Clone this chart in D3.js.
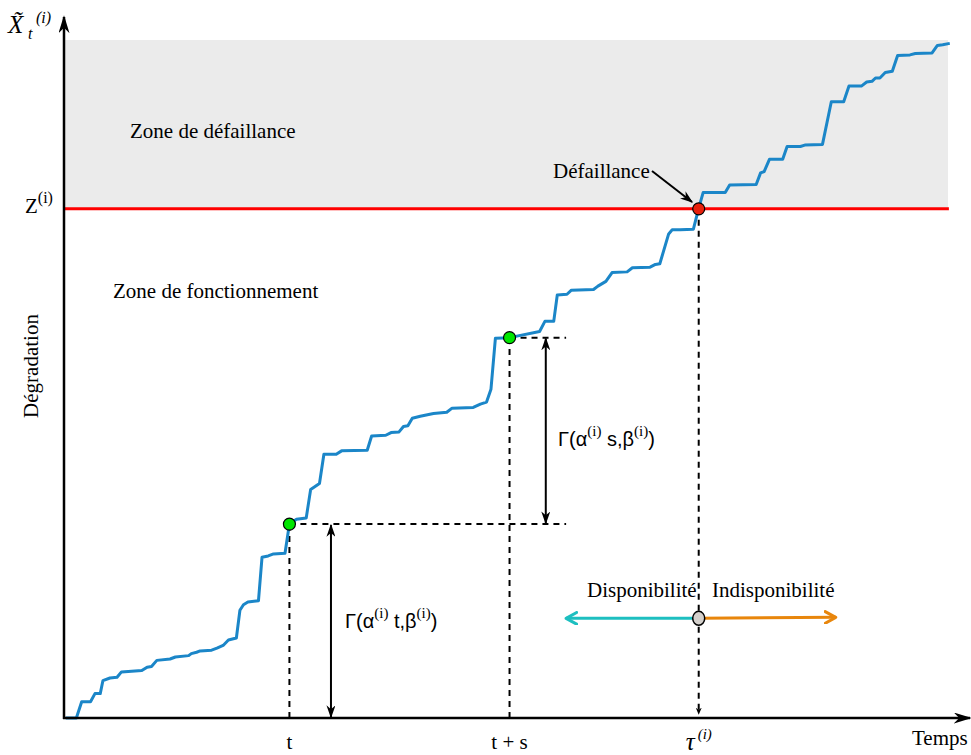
<!DOCTYPE html>
<html>
<head>
<meta charset="utf-8">
<script src="https://cdn.jsdelivr.net/npm/d3@7"></script>
<style>
    body { margin: 0; background: #fff; }
    svg { display: block; }
    text { font-family: "Liberation Serif", "Times New Roman", serif; fill: #000; }
    .sans { font-family: "Liberation Sans", Arial, sans-serif; }
</style>
</head>
<body>
<svg id="vis" width="971" height="755"></svg>
<script>

// degradation path (time 0-100, degradation 0-100)
const times = [0.2, 1.4, 2.0, 3.0, 3.5, 4.1, 4.4, 5.2, 6.0, 6.5, 8.8, 9.4, 9.9, 10.5, 12.0, 12.6,
    14.1, 14.4, 15.0, 15.4, 16.7, 17.3, 18.0, 18.6, 19.5, 19.9, 20.3, 20.8, 22.0, 22.4, 23.1, 23.7,
    25.0, 25.5, 26.3, 27.4, 27.9, 28.9, 29.4, 30.8, 31.4, 34.3, 34.8, 36.4, 37.0, 37.9, 38.4, 38.9,
    39.4, 40.3, 41.8, 43.3, 43.9, 46.3, 47.1, 47.8, 48.3, 48.8, 50.4, 53.8, 54.4, 55.4, 55.8, 56.9,
    57.4, 59.9, 60.4, 61.3, 62.0, 63.7, 64.3, 66.3, 66.9, 67.4, 68.4, 68.8, 69.7, 71.2, 71.8, 72.3,
    74.8, 75.3, 78.3, 78.8, 79.2, 79.8, 81.3, 81.8, 83.3, 83.8, 85.8, 86.8, 88.2, 88.8, 90.2, 90.8,
    91.4, 91.8, 92.3, 92.9, 93.7, 94.3, 95.7, 96.3, 98.2, 98.8, 99.4, 100.2];
const degradation = [0, 0, 2.4, 2.4, 3.6, 3.6, 5.5, 5.9, 6.0, 6.8, 7.0, 7.5, 7.6, 8.5, 8.7, 9.0,
    9.2, 9.5, 9.7, 9.9, 10.0, 10.3, 10.7, 11.5, 11.8, 15.9, 16.7, 17.1, 17.3, 23.7, 23.9, 24.2,
    24.3, 28.6, 29.3, 29.5, 33.7, 34.6, 38.9, 38.9, 39.4, 39.5, 41.6, 41.7, 42.1, 42.2, 43.0, 43.1,
    44.2, 44.5, 44.9, 45.1, 45.7, 45.8, 46.3, 46.6, 48.5, 56.0, 56.1, 57.0, 58.5, 58.5, 62.4, 62.5,
    63.1, 63.2, 63.7, 64.4, 65.7, 65.8, 66.4, 66.5, 66.9, 67.0, 71.4, 72.0, 72.0, 72.1, 75.2, 77.5,
    77.5, 78.6, 78.7, 80.4, 80.6, 82.4, 82.4, 84.3, 84.3, 84.5, 84.6, 90.9, 90.9, 93.2, 93.2, 93.8,
    93.9, 94.4, 94.4, 95.2, 95.4, 97.7, 97.8, 98.0, 98.1, 99.2, 99.3, 99.5];

const threshold = 75.1;            // Z(i)
const markTimes = [25.5, 50.4];    // t, t + s
const markLevels = [28.6, 56.1];
const failureTime = 71.8;          // tau(i)
const failureLevel = 75.1;
const tickLabels = ["t", "t + s"];
const zoneLabels = ["Zone de défaillance", "Zone de fonctionnement"];
const stateLabels = ["Disponibilité", "Indisponibilité"];
const stateColors = ["#1dbfc0", "#e8860c"];

const svg = d3.select('#vis');

var x = d3.scaleLinear().domain([0, 100]).range([64, 948]);
var y = d3.scaleLinear().domain([0, 100]).range([718, 40]);

var defs = svg.append("defs");

// filled stealth arrow
function stealth(id, len, wid) {
    defs.append("marker")
        .attr("id", id)
        .attr("viewBox", "0 -5 10 10")
        .attr("refX", 9)
        .attr("refY", 0)
        .attr("markerWidth", len)
        .attr("markerHeight", wid)
        .attr("preserveAspectRatio", "none")
        .attr("markerUnits", "userSpaceOnUse")
        .attr("orient", "auto-start-reverse")
        .append("path")
        .attr("d", "M0,-5L10,0L0,5L3,0Z")
        .attr("fill", "#000");
}
stealth("axisArrow", 18, 11);
stealth("dimArrow", 13, 9);
stealth("smallArrow", 7, 6);

// open chevron arrow
function chevron(id, color) {
    defs.append("marker")
        .attr("id", id)
        .attr("viewBox", "0 -6 12 12")
        .attr("refX", 10)
        .attr("refY", 0)
        .attr("markerWidth", 14)
        .attr("markerHeight", 14)
        .attr("markerUnits", "userSpaceOnUse")
        .attr("orient", "auto")
        .append("path")
        .attr("d", "M1,-5L10,0L1,5")
        .attr("fill", "none")
        .attr("stroke", color)
        .attr("stroke-width", 2.6)
        .attr("stroke-linecap", "round")
        .attr("stroke-linejoin", "round");
}
chevron("leftArrow", stateColors[0]);
chevron("rightArrow", stateColors[1]);

// failure zone
svg.append("rect")
    .attr("x", x(0))
    .attr("y", y(100))
    .attr("width", x(100) - x(0))
    .attr("height", y(threshold) - y(100))
    .attr("fill", "#ebebeb");

// dashed guides
var guides = [
    [markTimes[0], 0, markTimes[0], markLevels[0]],
    [markTimes[0], markLevels[0], 56.8, markLevels[0]],
    [markTimes[1], 0, markTimes[1], markLevels[1]],
    [markTimes[1], markLevels[1], 56.8, markLevels[1]]
];
svg.selectAll(".guide")
    .data(guides)
    .enter().append("line")
    .attr("class", "guide")
    .attr("x1", function (d) { return x(d[0]); })
    .attr("y1", function (d) { return y(d[1]); })
    .attr("x2", function (d) { return x(d[2]); })
    .attr("y2", function (d) { return y(d[3]); })
    .attr("stroke", "#000")
    .attr("stroke-width", 2)
    .attr("stroke-dasharray", "6,5");

svg.append("line")
    .attr("x1", x(failureTime))
    .attr("y1", y(failureLevel))
    .attr("x2", x(failureTime))
    .attr("y2", y(0) - 4)
    .attr("stroke", "#000")
    .attr("stroke-width", 2)
    .attr("stroke-dasharray", "6,5")
    .attr("marker-end", "url(#smallArrow)");

// threshold
svg.append("line")
    .attr("x1", x(0))
    .attr("x2", x(100.1))
    .attr("y1", y(threshold))
    .attr("y2", y(threshold))
    .attr("stroke", "#ff0000")
    .attr("stroke-width", 3);

// degradation path
var line = d3.line()
    .x(function (d) { return x(d[0]); })
    .y(function (d) { return y(d[1]); });

svg.append("path")
    .datum(d3.zip(times, degradation))
    .attr("d", line)
    .attr("fill", "none")
    .attr("stroke", "#1b86c8")
    .attr("stroke-width", 3)
    .attr("stroke-linejoin", "round");

// axes
svg.append("line")
    .attr("x1", x(0)).attr("y1", y(0) + 1)
    .attr("x2", x(0)).attr("y2", 17)
    .attr("stroke", "#000").attr("stroke-width", 2.5)
    .attr("marker-end", "url(#axisArrow)");
svg.append("line")
    .attr("x1", x(0) - 1).attr("y1", y(0))
    .attr("x2", 970).attr("y2", y(0))
    .attr("stroke", "#000").attr("stroke-width", 2.5)
    .attr("marker-end", "url(#axisArrow)");

// gamma increments
var dims = [[30.2, 0, markLevels[0]], [54.5, markLevels[0], markLevels[1]]];
svg.selectAll(".dim")
    .data(dims)
    .enter().append("line")
    .attr("class", "dim")
    .attr("x1", function (d) { return x(d[0]); })
    .attr("x2", function (d) { return x(d[0]); })
    .attr("y1", function (d) { return y(d[1]) - 1; })
    .attr("y2", function (d) { return y(d[2]) + 1; })
    .attr("stroke", "#000")
    .attr("stroke-width", 2)
    .attr("marker-start", "url(#dimArrow)")
    .attr("marker-end", "url(#dimArrow)");

function gammaLabel(px, py, v) {
    var t = svg.append("text").attr("x", px).attr("y", py).attr("class", "sans").style("font-size", "20px");
    t.append("tspan").text("Γ(α");
    t.append("tspan").attr("dy", -10).style("font-size", "15px")
        .style("font-family", "Liberation Serif, serif").text("(i)");
    t.append("tspan").attr("dy", 10).text(" " + v + ",β");
    t.append("tspan").attr("dy", -10).style("font-size", "15px")
        .style("font-family", "Liberation Serif, serif").text("(i)");
    t.append("tspan").attr("dy", 10).text(")");
}
gammaLabel(345, 628, "t");
gammaLabel(558, 446, "s");

// marks
svg.selectAll(".mark")
    .data(d3.zip(markTimes, markLevels))
    .enter().append("circle")
    .attr("class", "mark")
    .attr("cx", function (d) { return x(d[0]); })
    .attr("cy", function (d) { return y(d[1]); })
    .attr("r", 6)
    .attr("fill", "#00e600")
    .attr("stroke", "#000")
    .attr("stroke-width", 1.2);

svg.append("circle")
    .attr("cx", x(failureTime))
    .attr("cy", y(failureLevel))
    .attr("r", 6)
    .attr("fill", "#e8200c")
    .attr("stroke", "#000")
    .attr("stroke-width", 1.2);

// failure annotation
svg.append("text").attr("x", 553).attr("y", 178).style("font-size", "21px").text("Défaillance");
svg.append("line")
    .attr("x1", 652).attr("y1", 171)
    .attr("x2", 692).attr("y2", 202)
    .attr("stroke", "#000").attr("stroke-width", 2)
    .attr("marker-end", "url(#dimArrow)");

// availability arrows
var stateY = y(14.7);
svg.append("line")
    .attr("x1", x(failureTime)).attr("y1", stateY)
    .attr("x2", x(56.8)).attr("y2", stateY)
    .attr("stroke", stateColors[0]).attr("stroke-width", 3)
    .attr("marker-end", "url(#leftArrow)");
svg.append("line")
    .attr("x1", x(failureTime)).attr("y1", stateY)
    .attr("x2", x(87.3)).attr("y2", stateY - 1)
    .attr("stroke", stateColors[1]).attr("stroke-width", 3)
    .attr("marker-end", "url(#rightArrow)");
svg.append("ellipse")
    .attr("cx", x(failureTime)).attr("cy", stateY)
    .attr("rx", 6)
    .attr("ry", 7)
    .attr("fill", "#d4d0cc")
    .attr("stroke", "#000")
    .attr("stroke-width", 1.5);
svg.append("text").attr("x", 587).attr("y", 597).style("font-size", "21px").text(stateLabels[0]);
svg.append("text").attr("x", 712).attr("y", 597).style("font-size", "21px").text(stateLabels[1]);

// zone labels
svg.append("text").attr("x", 130).attr("y", 138).style("font-size", "21px").text(zoneLabels[0]);
svg.append("text").attr("x", 113).attr("y", 298).style("font-size", "21px").text(zoneLabels[1]);

// y label
svg.append("text")
    .attr("transform", "translate(38,366) rotate(-90)")
    .attr("text-anchor", "middle")
    .style("font-size", "21px")
    .text("Dégradation");

// Z(i)
var zt = svg.append("text").attr("x", 25).attr("y", y(threshold) + 4).style("font-size", "21px");
zt.append("tspan").text("Z");
zt.append("tspan").attr("dy", -10).style("font-size", "16px").text("(i)");

// X tilde
var xt = svg.append("text").attr("x", 8).attr("y", 33).style("font-size", "25px").style("font-style", "italic");
xt.append("tspan").text("X̃");
xt.append("tspan").attr("x", 28).attr("dy", 6).style("font-size", "16px").text("t");
xt.append("tspan").attr("x", 36).attr("dy", -16).style("font-size", "16px").text("(i)");

// x ticks
svg.selectAll(".tick")
    .data(markTimes)
    .enter().append("text")
    .attr("class", "tick")
    .attr("x", function (d) { return x(d); })
    .attr("y", 749)
    .attr("text-anchor", "middle")
    .style("font-size", "21px")
    .text(function (d, i) { return tickLabels[i]; });

var tau = svg.append("text").attr("x", x(failureTime) - 13).attr("y", 750)
    .style("font-size", "25px").style("font-style", "italic");
tau.append("tspan").text("τ");
tau.append("tspan").attr("dy", -11).attr("dx", 3).style("font-size", "15px").text("(i)");

svg.append("text").attr("x", 912).attr("y", 745).style("font-size", "21px").text("Temps");

</script>
</body>
</html>
